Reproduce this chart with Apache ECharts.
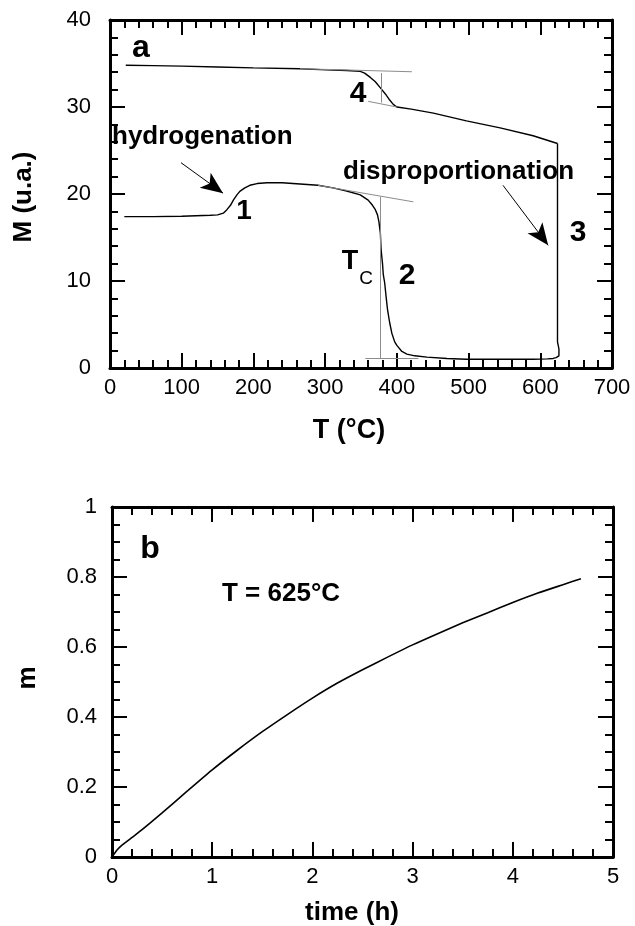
<!DOCTYPE html>
<html>
<head>
<meta charset="utf-8">
<script src="https://cdn.jsdelivr.net/npm/echarts@6/dist/echarts.min.js"></script>
<style>
  html, body { margin: 0; padding: 0; background: #fff; }
  #chart { width: 635px; height: 926px; }
</style>
</head>
<body>
<div id="chart"></div>
<script>
  // --- panel a : M(T) ---
  var tTicks = [0, 100, 200, 300, 400, 500, 600, 700];
  var mTicks = [0, 10, 20, 30, 40];
  // heating (curve 1 -> 2 -> 3)
  var heatT = [20, 60, 100, 140, 150, 158, 163, 168, 172, 177, 181, 188, 195, 205, 219, 240, 265, 290, 311, 330, 349, 360, 366, 370, 373, 375, 377, 378, 380, 381, 383, 385, 387, 390, 393, 397, 400, 407, 414, 425, 442, 470, 497, 540, 590, 610, 618, 622, 626, 628, 626, 624, 624];
  var heatM = [17.4, 17.4, 17.45, 17.55, 17.6, 17.8, 18.2, 18.7, 19.3, 19.9, 20.3, 20.7, 21.0, 21.2, 21.3, 21.3, 21.15, 21.0, 20.7, 20.35, 19.9, 19.3, 18.7, 18.2, 17.6, 16.8, 15.5, 13.6, 12.0, 10.8, 9.8, 8.2, 6.7, 5.2, 4.0, 3.0, 2.6, 1.9, 1.6, 1.4, 1.25, 1.1, 1.0, 1.0, 1.0, 1.05, 1.1, 1.2, 1.4, 1.6, 2.2, 3.0, 25.8];
  // cooling (curve 4)
  var coolT = [624, 623, 590, 544, 497, 451, 420, 400, 395, 390, 384, 377, 370, 363, 355, 349, 330, 293, 265, 200, 150, 100, 60, 22];
  var coolM = [25.8, 25.8, 26.7, 27.6, 28.4, 29.3, 29.75, 30.0, 30.3, 30.8, 31.5, 32.2, 32.9, 33.4, 33.9, 34.1, 34.2, 34.3, 34.4, 34.5, 34.6, 34.7, 34.75, 34.8];

  // --- panel b : m(t) at 625°C ---
  var timeTicks = [0, 1, 2, 3, 4, 5];
  var fracTicks = [0, 0.2, 0.4, 0.6, 0.8, 1];
  var timeH = [0, 0.05, 0.1, 0.2, 0.3, 0.5, 0.75, 1.0, 1.25, 1.5, 1.75, 2.0, 2.25, 2.5, 2.75, 3.0, 3.25, 3.5, 3.75, 4.0, 4.25, 4.5, 4.68];
  var fracM = [0, 0.02, 0.034, 0.056, 0.078, 0.126, 0.188, 0.249, 0.305, 0.358, 0.407, 0.454, 0.497, 0.535, 0.571, 0.606, 0.638, 0.669, 0.698, 0.727, 0.754, 0.778, 0.795];

  var FONT = '"Liberation Sans", Arial, sans-serif';

  function pairs(xs, ys) {
    return xs.map(function (x, i) { return [x, ys[i]]; });
  }

  function valueAxis(gridIndex, position, ticks, minorSplit, showLabel, labelMargin) {
    return {
      type: 'value',
      gridIndex: gridIndex,
      position: position,
      min: ticks[0],
      max: ticks[ticks.length - 1],
      interval: ticks[1] - ticks[0],
      axisLine: { show: true, onZero: false, lineStyle: { color: '#000', width: 3 } },
      axisTick: { show: true, inside: true, length: 15, lineStyle: { color: '#000', width: 2 } },
      minorTick: { show: true, splitNumber: minorSplit, length: 8, lineStyle: { color: '#000', width: 2 } },
      splitLine: { show: false },
      axisLabel: {
        show: showLabel,
        color: '#000',
        fontSize: 22,
        fontFamily: FONT,
        margin: labelMargin
      }
    };
  }

  function txt(x, y, text, size, opts) {
    opts = opts || {};
    return {
      type: 'text',
      x: x,
      y: y,
      rotation: opts.rotation || 0,
      style: {
        text: text,
        font: (opts.weight || 'bold') + ' ' + size + 'px ' + FONT,
        fill: '#000',
        textAlign: opts.align || 'center',
        textVerticalAlign: 'middle'
      }
    };
  }

  var grayLine = { color: '#8c8c8c', width: 1, type: 'solid' };

  var option = {
    animation: false,
    backgroundColor: '#fff',
    grid: [
      { left: 110, top: 20, width: 502, height: 348 },
      { left: 112, top: 507, width: 501, height: 350 }
    ],
    xAxis: [
      valueAxis(0, 'bottom', tTicks, 5, true, 9),
      valueAxis(0, 'top', tTicks, 5, false, 9),
      valueAxis(1, 'bottom', timeTicks, 5, true, 9),
      valueAxis(1, 'top', timeTicks, 5, false, 9)
    ],
    yAxis: [
      valueAxis(0, 'left', mTicks, 5, true, 19),
      valueAxis(0, 'right', mTicks, 5, false, 19),
      valueAxis(1, 'left', fracTicks, 4, true, 15),
      valueAxis(1, 'right', fracTicks, 4, false, 15)
    ],
    series: [
      {
        name: 'heating',
        type: 'line',
        xAxisIndex: 0,
        yAxisIndex: 0,
        showSymbol: false,
        data: pairs(heatT, heatM),
        lineStyle: { color: '#000', width: 1.4 },
        markLine: {
          silent: true,
          symbol: ['none', 'none'],
          label: { show: false },
          lineStyle: grayLine,
          data: [
            [{ coord: [265, 34.4] }, { coord: [421, 34.05] }],
            [{ coord: [360, 30.65] }, { coord: [400, 30.0] }],
            [{ coord: [378, 33.9] }, { coord: [378, 30.5] }],
            [{ coord: [290, 21.0] }, { coord: [423, 19.1] }],
            [{ coord: [377, 19.7] }, { coord: [377, 1.1] }],
            [{ coord: [356, 1.1] }, { coord: [430, 1.1] }]
          ]
        }
      },
      {
        name: 'cooling',
        type: 'line',
        xAxisIndex: 0,
        yAxisIndex: 0,
        showSymbol: false,
        data: pairs(coolT, coolM),
        lineStyle: { color: '#000', width: 1.4 },
        markLine: {
          silent: true,
          symbol: ['none', 'arrow'],
          symbolSize: [14, 22],
          label: { show: false },
          lineStyle: { color: '#000', width: 1, type: 'solid' },
          itemStyle: { color: '#000' },
          data: [
            [{ coord: [99, 23.6] }, { coord: [157.6, 20.1] }],
            [{ coord: [548, 21.0] }, { coord: [611, 14.1] }]
          ]
        }
      },
      {
        name: 'm',
        type: 'line',
        xAxisIndex: 2,
        yAxisIndex: 2,
        showSymbol: false,
        smooth: 0.2,
        data: pairs(timeH, fracM),
        lineStyle: { color: '#000', width: 1.6 }
      }
    ],
    graphic: [
      txt(141, 48, 'a', 32),
      txt(112, 137, 'hydrogenation', 26, { align: 'left' }),
      txt(244, 211, '1', 28),
      txt(358, 94, '4', 30),
      txt(343, 172, 'disproportionation', 26, { align: 'left' }),
      txt(578, 233, '3', 30),
      txt(407, 276, '2', 30),
      txt(350, 262, 'T', 27),
      txt(366, 279, 'C', 19, { weight: 'normal' }),
      txt(24, 197, 'M (u.a.)', 26, { rotation: Math.PI / 2 }),
      txt(349, 431, 'T (°C)', 27),
      txt(150, 549, 'b', 32),
      txt(222, 594, 'T = 625°C', 26, { align: 'left' }),
      txt(28, 678, 'm', 26, { rotation: Math.PI / 2 }),
      txt(352, 913, 'time (h)', 26)
    ]
  };

  var chart = echarts.init(document.getElementById('chart'), null, { renderer: 'canvas' });
  chart.setOption(option);
</script>
</body>
</html>
